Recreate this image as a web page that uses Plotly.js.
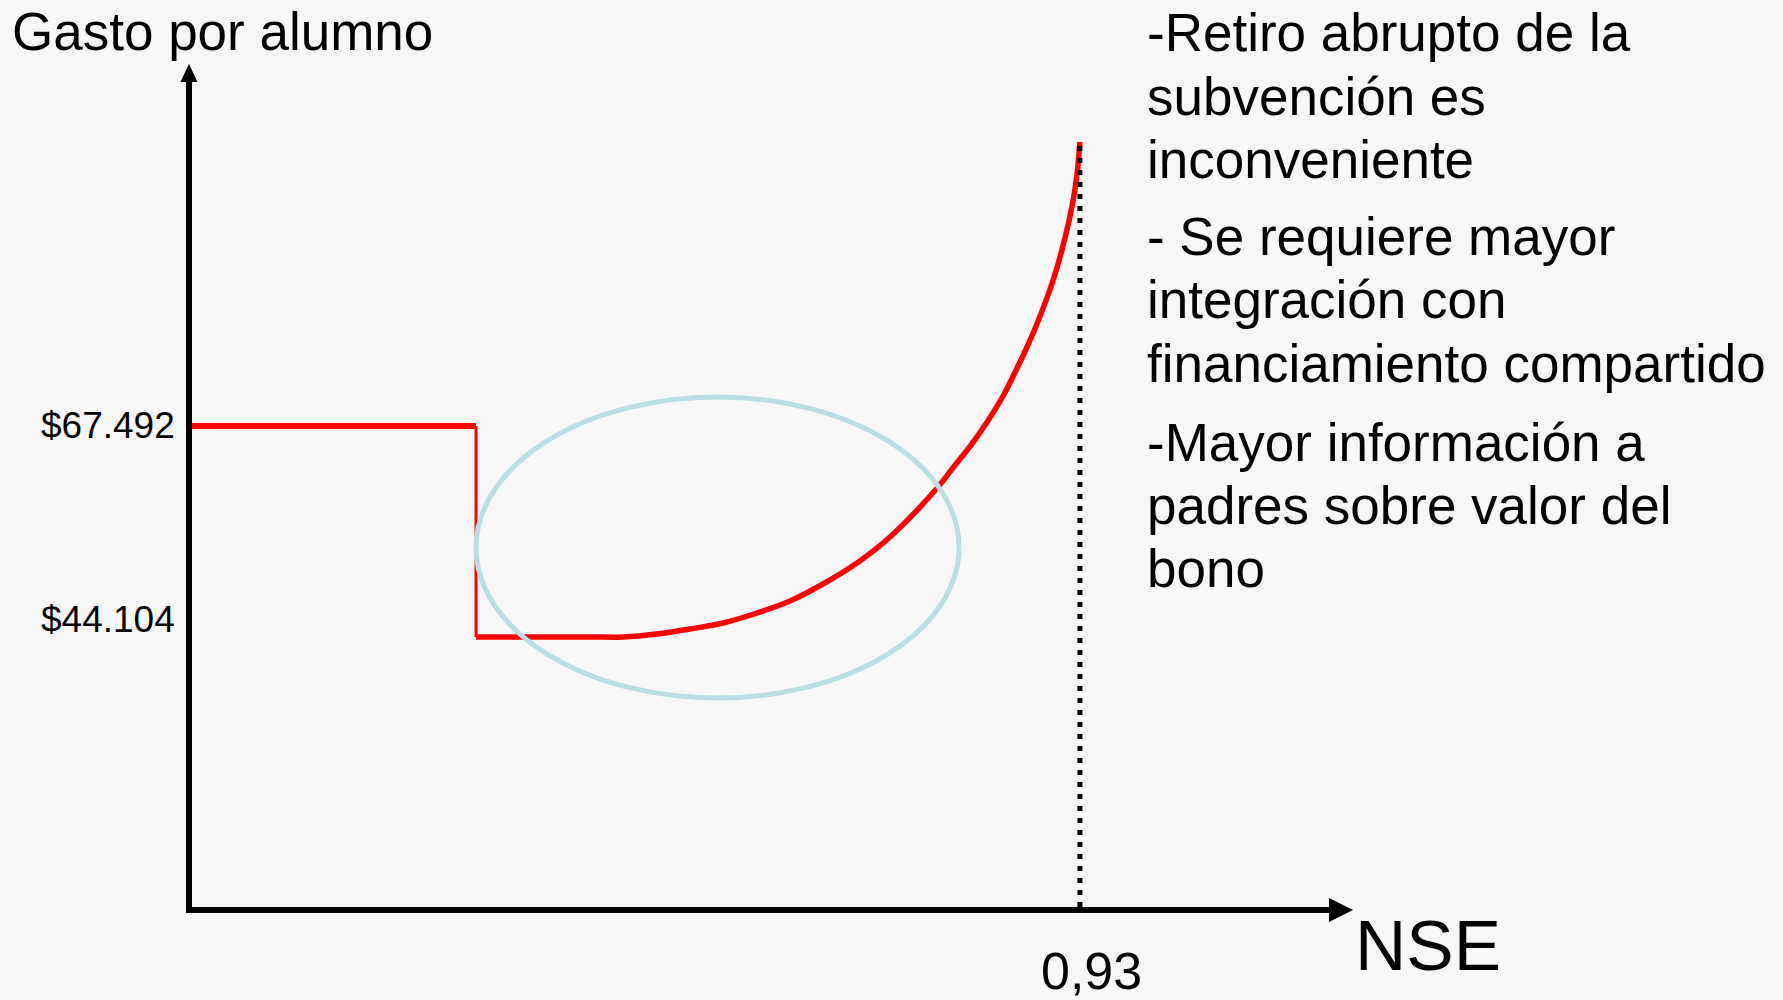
<!DOCTYPE html>
<html><head><meta charset="utf-8">
<script src="https://cdn.plot.ly/plotly-3.0.1.min.js"></script>
<style>html,body{margin:0;padding:0;background:#f7f7f7;}#chart{width:1783px;height:1000px;}</style>
</head><body><div id="chart"></div>
<script>
// ---------- data ----------
const highX = [0, 0.2975];
const highY = [67492, 67492];
const dropX = [0.2975, 0.2975];
const dropY = [67492, 44104];
const curveX = [0.2975, 0.4169, 0.4514, 0.4870, 0.5216, 0.5562, 0.5918, 0.6263, 0.6609, 0.6965, 0.7311, 0.7814, 0.7969, 0.8160, 0.8335, 0.8507, 0.8581, 0.8732, 0.8854, 0.9017, 0.9144, 0.9226, 0.9269, 0.9300];
const curveY = [44104, 44104, 44104, 44436, 44991, 45656, 46764, 48094, 49979, 52306, 55188, 60731, 62837, 65386, 68046, 71039, 72591, 75916, 78909, 83564, 88331, 92321, 95314, 98972];
const cutoffX = [0.93, 0.93];
const cutoffY = [14177, 98972];
const xRange = [0, 1.215];
const yRange = [14177, 107616];
const yTickVals = [67492, 44104];
const yTickText = ['$67.492', '$44.104'];
const xTickVals = [0.93];
const xTickText = ['0,93'];
const ellipseX = [0.2975, 0.8034];
const ellipseY = [37344, 70706];
const yTitle = 'Gasto por alumno';
const xTitle = 'NSE';
const notes = ['-Retiro abrupto de la', 'subvención es', 'inconveniente',
               '- Se requiere mayor', 'integración con', 'financiamiento compartido',
               '-Mayor información a', 'padres sobre valor del', 'bono'];

// ---------- layout helpers (pixel -> paper) ----------
const W = 1783, H = 1000, L = 192, R = 431, T = 64, B = 93;
const PW = W - L - R, PH = H - T - B;
const px = v => (v - L) / PW;
const py = v => (H - B - v) / PH;
const FONT = 'Liberation Sans, Arial, sans-serif';

const traces = [
  {x: highX, y: highY, mode: 'lines', line: {color: '#ff0000', width: 6}},
  {x: dropX, y: dropY, mode: 'lines', line: {color: '#ff0000', width: 3}},
  {x: curveX, y: curveY, mode: 'lines', line: {color: '#ff0000', width: 5.5, shape: 'spline', smoothing: 1}},
  {x: cutoffX, y: cutoffY, mode: 'lines', line: {color: '#000000', width: 5, dash: '5px,7px'}}
];

const noteCenters = [32.6, 96.6, 159.6, 236.6, 299.6, 363.6, 442.6, 505.6, 568.6];
const annotations = [];
notes.forEach((t, i) => annotations.push({
  text: t, xref: 'paper', yref: 'paper', x: px(1146), y: py(noteCenters[i]),
  xanchor: 'left', yanchor: 'middle', showarrow: false, borderpad: 0,
  font: {family: FONT, size: 53, color: '#000'}
}));
annotations.push({text: yTitle, xref: 'paper', yref: 'paper', x: px(11), y: py(31),
  xanchor: 'left', yanchor: 'middle', showarrow: false, borderpad: 0,
  font: {family: FONT, size: 53, color: '#000'}});
annotations.push({text: xTitle, xref: 'paper', yref: 'paper', x: px(1354), y: py(945),
  xanchor: 'left', yanchor: 'middle', showarrow: false, borderpad: 0,
  font: {family: FONT, size: 71, color: '#000'}});
const yShifts = [1, 18];
yTickVals.forEach((v, i) => annotations.push({text: yTickText[i], xref: 'paper', yref: 'y',
  x: px(176), y: v, yshift: yShifts[i], xanchor: 'right', yanchor: 'middle', showarrow: false, borderpad: 0,
  font: {family: FONT, size: 37, color: '#000'}}));
xTickVals.forEach((v, i) => annotations.push({text: xTickText[i], xref: 'x', yref: 'paper',
  x: v, xshift: 12, y: py(971), xanchor: 'center', yanchor: 'middle', showarrow: false, borderpad: 0,
  font: {family: FONT, size: 52, color: '#000'}}));

const shapes = [
  {type: 'circle', xref: 'x', yref: 'y', x0: ellipseX[0], x1: ellipseX[1], y0: ellipseY[0], y1: ellipseY[1],
   line: {color: '#b9dfe3', width: 5}, layer: 'above'},
  // axis lines
  {type: 'line', xref: 'paper', yref: 'paper', x0: px(189), x1: px(189), y0: py(913), y1: py(78),
   line: {color: '#000', width: 6}},
  {type: 'line', xref: 'paper', yref: 'paper', x0: px(186), x1: px(1335), y0: py(910), y1: py(910),
   line: {color: '#000', width: 6}},
  // arrowheads
  {type: 'path', xref: 'paper', yref: 'paper', xsizemode: 'pixel', ysizemode: 'pixel',
   xanchor: px(189), yanchor: py(64), path: 'M0,0L-8.5,-18L8.5,-18Z',
   fillcolor: '#000', line: {color: '#000', width: 0}},
  {type: 'path', xref: 'paper', yref: 'paper', xsizemode: 'pixel', ysizemode: 'pixel',
   xanchor: px(1353), yanchor: py(910), path: 'M0,0L-24,12L-24,-12Z',
   fillcolor: '#000', line: {color: '#000', width: 0}}
];

const layout = {
  width: W, height: H,
  margin: {l: L, r: R, t: T, b: B, pad: 0},
  paper_bgcolor: '#f7f7f7', plot_bgcolor: '#f7f7f7',
  showlegend: false, hovermode: false,
  xaxis: {range: xRange, visible: false, fixedrange: true},
  yaxis: {range: yRange, visible: false, fixedrange: true},
  annotations: annotations, shapes: shapes
};
Plotly.newPlot('chart', traces, layout, {displayModeBar: false, staticPlot: true});
</script>
</body></html>
